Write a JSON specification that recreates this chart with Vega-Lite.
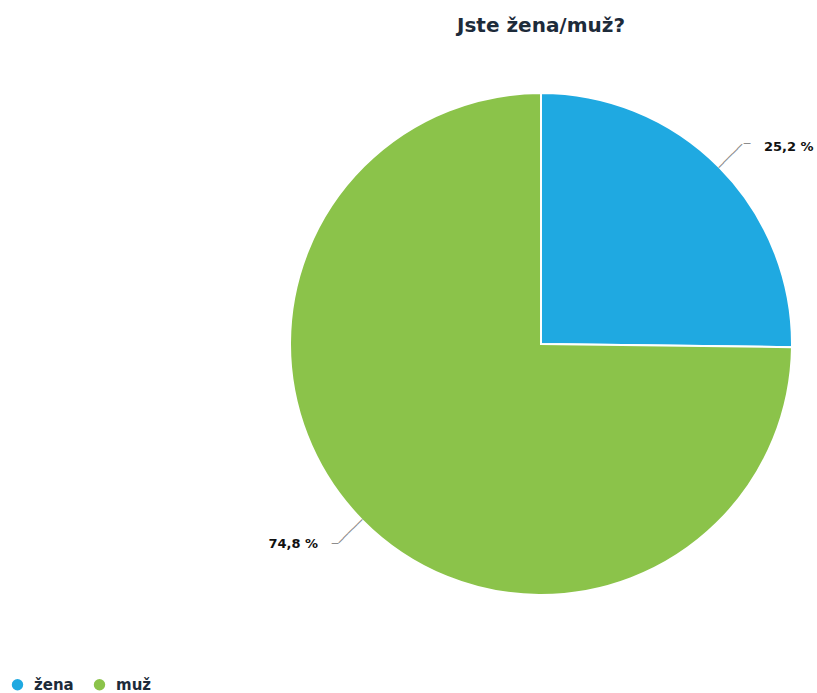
{
  "$schema": "https://vega.github.io/schema/vega-lite/v6.json",
  "autosize": "none",
  "width": 502,
  "height": 502,
  "padding": {"left": 290, "top": 93, "right": 25, "bottom": 98},
  "background": "white",
  "title": {
    "text": "Jste žena/muž?",
    "anchor": "middle",
    "frame": "group",
    "baseline": "bottom",
    "offset": 33,
    "font": "DejaVu Sans",
    "fontSize": 20,
    "fontWeight": "bold",
    "color": "#1d2b3a"
  },
  "data": {
    "values": [
      {"pohlavi": "žena", "podil": 25.2, "poradi": 1, "popisek": "25,2 %"},
      {"pohlavi": "muž", "podil": 74.8, "poradi": 2, "popisek": "74,8 %"}
    ]
  },
  "encoding": {
    "theta": {"field": "podil", "type": "quantitative", "stack": true},
    "order": {"field": "poradi", "type": "quantitative"}
  },
  "layer": [
    {
      "mark": {"type": "arc", "stroke": "white", "strokeWidth": 2},
      "encoding": {
        "color": {
          "field": "pohlavi",
          "type": "nominal",
          "scale": {"domain": ["žena", "muž"], "range": ["#1fa9e1", "#8bc34a"]},
          "legend": {
            "title": null,
            "orient": "none",
            "direction": "horizontal",
            "legendX": -280,
            "legendY": 584,
            "symbolType": "circle",
            "symbolSize": 130,
            "symbolStrokeWidth": 0,
            "labelFont": "DejaVu Sans",
            "labelFontSize": 15,
            "labelFontWeight": "bold",
            "labelColor": "#1d2b3a",
            "labelOffset": 9,
            "columnPadding": 18
          }
        }
      }
    },
    {
      "mark": {"type": "text", "text": "─────", "radius": 267, "angle": -45, "align": "center", "baseline": "middle", "font": "DejaVu Sans", "fontSize": 11, "color": "#8a8a8a"},
      "encoding": {"detail": {"field": "pohlavi", "type": "nominal"}}
    },
    {
      "mark": {"type": "text", "radius": 267, "dx": 16, "dy": -12, "align": "center", "baseline": "middle", "font": "DejaVu Sans", "fontSize": 11, "color": "#8a8a8a"},
      "encoding": {
        "detail": {"field": "pohlavi", "type": "nominal"},
        "text": {"condition": {"test": "datum.pohlavi === 'žena'", "value": "─"}, "value": ""}
      }
    },
    {
      "mark": {"type": "text", "radius": 267, "dx": -16, "dy": 12, "align": "center", "baseline": "middle", "font": "DejaVu Sans", "fontSize": 11, "color": "#8a8a8a"},
      "encoding": {
        "detail": {"field": "pohlavi", "type": "nominal"},
        "text": {"condition": {"test": "datum.pohlavi === 'muž'", "value": "─"}, "value": ""}
      }
    },
    {
      "mark": {"type": "text", "radius": 267, "dx": 33, "dy": -9, "align": "left", "baseline": "middle", "font": "DejaVu Sans", "fontSize": 13, "fontWeight": "bold", "color": "#111111"},
      "encoding": {
        "detail": {"field": "pohlavi", "type": "nominal"},
        "text": {"condition": {"test": "datum.pohlavi === 'žena'", "field": "popisek"}, "value": ""}
      }
    },
    {
      "mark": {"type": "text", "radius": 267, "dx": -33, "dy": 12.4, "align": "right", "baseline": "middle", "font": "DejaVu Sans", "fontSize": 13, "fontWeight": "bold", "color": "#111111"},
      "encoding": {
        "detail": {"field": "pohlavi", "type": "nominal"},
        "text": {"condition": {"test": "datum.pohlavi === 'muž'", "field": "popisek"}, "value": ""}
      }
    }
  ]
}
